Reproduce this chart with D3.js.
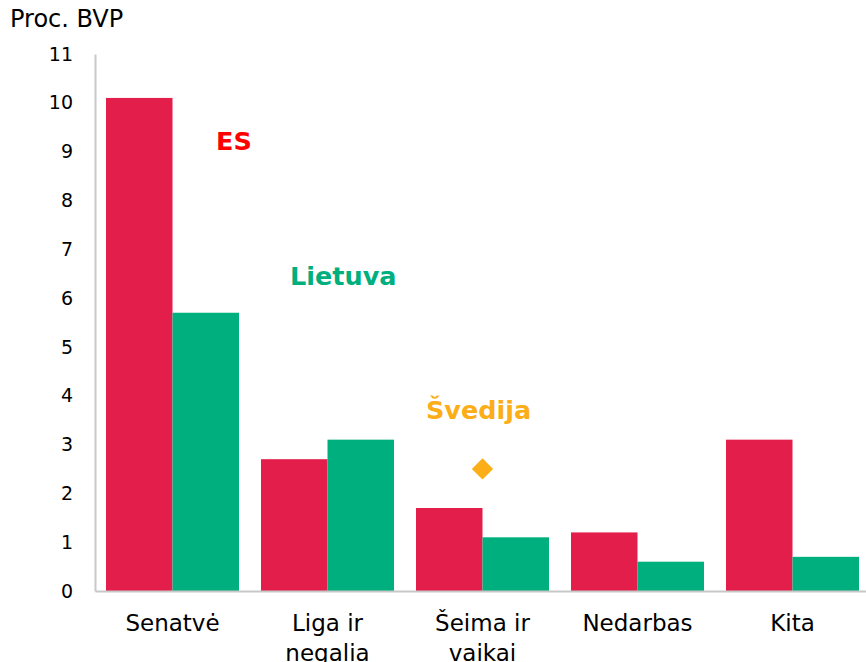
<!DOCTYPE html>
<html><head><meta charset="utf-8">
<script src="https://cdn.jsdelivr.net/npm/d3@7"></script>
<style>body{margin:0;background:#fff}svg{display:block;font-family:"DejaVu Sans",Verdana,sans-serif}</style>
</head><body><svg id="c" width="866" height="662"></svg>
<script>
const categories = [["Senatvė"], ["Liga ir", "negalia"], ["Šeima ir", "vaikai"], ["Nedarbas"], ["Kita"]];
const catKeys = ["Senatvė", "Liga ir negalia", "Šeima ir vaikai", "Nedarbas", "Kita"];
const seriesNames = ["ES", "Lietuva"];
const esValues = [10.1, 2.7, 1.7, 1.2, 3.1];
const ltValues = [5.7, 3.1, 1.1, 0.6, 0.7];
const seCategory = "Šeima ir vaikai";
const seValue = 2.5;
const yTicks = [0,1,2,3,4,5,6,7,8,9,10,11];
const colors = {ES: "#E31E4B", Lietuva: "#00AF7E", Svedija: "#FBAE17"};

const svg = d3.select("#c");
const x0 = d3.scaleBand().domain(catKeys).range([95, 870]).padding(0);
const x1 = d3.scaleBand().domain(seriesNames).range([11, 144]).padding(0);
const y = d3.scaleLinear().domain([0, 11]).range([591, 54]);

// bars
const data = catKeys.map((k, i) => ({k, vals: [{s: "ES", v: esValues[i]}, {s: "Lietuva", v: ltValues[i]}]}));
const g = svg.append("g");
g.selectAll("g").data(data).join("g")
  .attr("transform", d => `translate(${x0(d.k)},0)`)
  .selectAll("rect").data(d => d.vals).join("rect")
  .attr("x", d => x1(d.s)).attr("width", x1.bandwidth())
  .attr("y", d => y(d.v)).attr("height", d => y(0) - y(d.v))
  .attr("fill", d => colors[d.s]);

// y axis
const yAxis = svg.append("g").attr("transform", "translate(95,0)")
  .call(d3.axisLeft(y).tickValues(yTicks).tickSize(0).tickPadding(22));
yAxis.select(".domain").attr("stroke", "#c8c8c8").attr("stroke-width", 2);
yAxis.selectAll("text").attr("font-size", 19).attr("fill", "#000")
  .attr("font-family", '"DejaVu Sans",Verdana,sans-serif');

// x axis
const xAxis = svg.append("g").attr("transform", "translate(0,591)")
  .call(d3.axisBottom(x0).tickSize(0).tickFormat(""));
xAxis.select(".domain").attr("stroke", "#c8c8c8").attr("stroke-width", 2);
xAxis.selectAll(".tick").each(function(d, i) {
  const t = d3.select(this).append("text").attr("fill", "#000").attr("font-size", 23)
    .attr("text-anchor", "middle").attr("font-family", '"DejaVu Sans",Verdana,sans-serif');
  categories[i].forEach((line, j) => {
    t.append("tspan").attr("x", 0).attr("y", 40 + j * 30).text(line);
  });
});

// title
svg.append("text").attr("x", 10).attr("y", 27).attr("font-size", 24).attr("fill", "#000").text("Proc. BVP");

// Sweden diamond
svg.append("path")
  .attr("d", d3.symbol().type(d3.symbolDiamond2).size(288)())
  .attr("transform", `translate(${x0(seCategory) + x0.bandwidth()/2},${y(seValue)})`)
  .attr("fill", colors.Svedija);

// series labels
svg.append("text").attr("x", 216).attr("y", 150).attr("font-size", 25.5).attr("font-weight", "bold").attr("fill", "#FF0000").text("ES");
svg.append("text").attr("x", 290).attr("y", 285).attr("font-size", 25.5).attr("font-weight", "bold").attr("fill", colors.Lietuva).text("Lietuva");
svg.append("text").attr("x", 426).attr("y", 419).attr("font-size", 25.5).attr("font-weight", "bold").attr("fill", colors.Svedija).text("Švedija");
</script></body></html>
